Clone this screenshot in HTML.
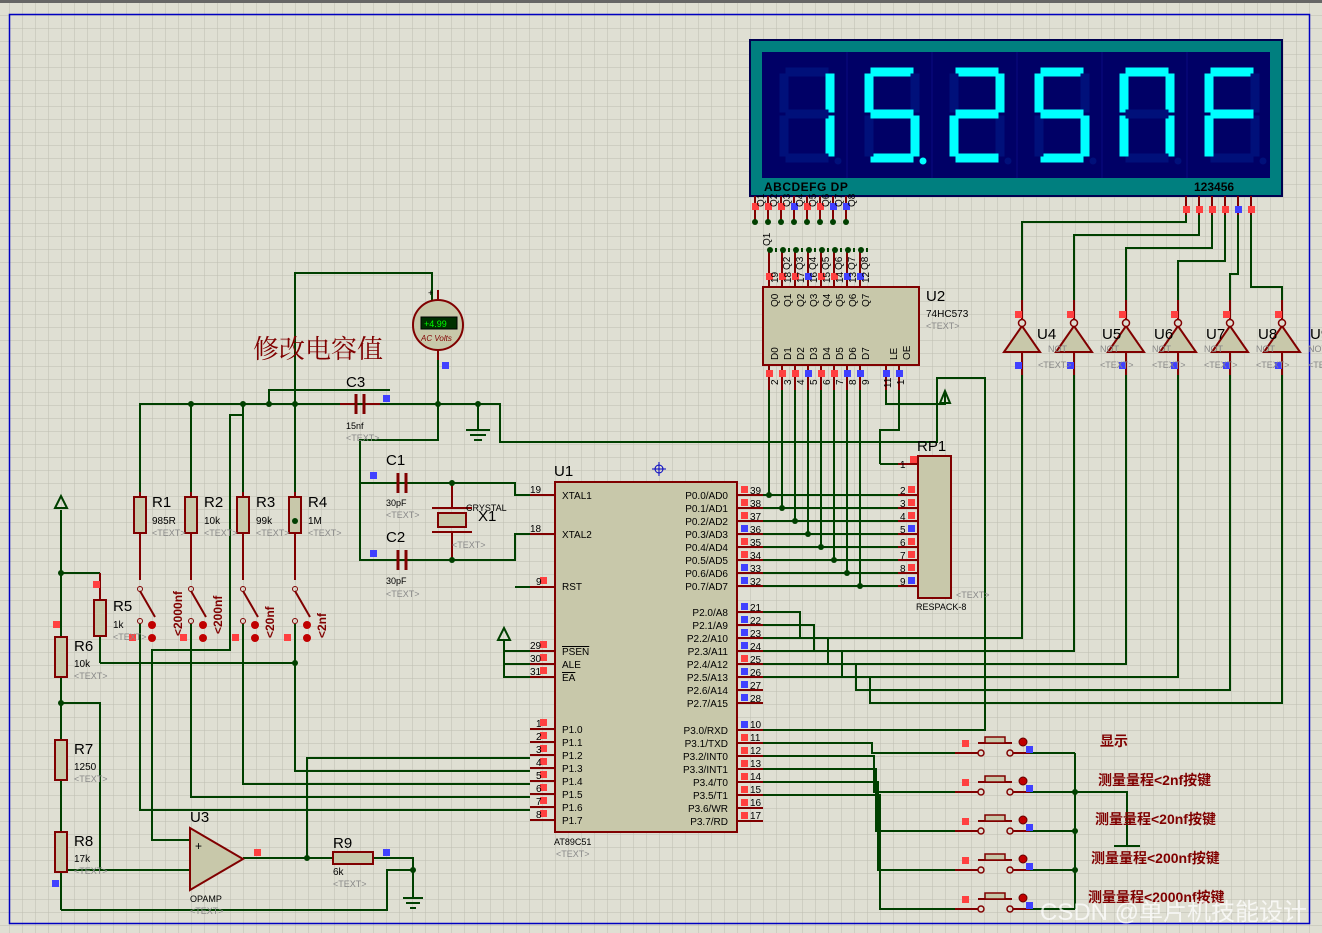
<!DOCTYPE html>
<html><head><meta charset="utf-8"><style>
html,body{margin:0;padding:0;background:#dfdfd3;}
svg{display:block;}
text{font-family:"Liberation Sans","Noto Sans CJK SC",sans-serif;}
.cn{font-family:"Liberation Serif","Noto Serif CJK SC",serif;fill:#800000;font-weight:bold;}
.t{fill:#888;font-size:9px;}
.l{fill:#000;font-size:10px;}
.lb{fill:#000;font-size:15px;}
</style></head><body>
<svg id="s" width="1322" height="933" xmlns="http://www.w3.org/2000/svg">
<defs>
<pattern id="g" x="9" y="2" width="13" height="13" patternUnits="userSpaceOnUse">
<path d="M0 0H13M0 0V13" stroke="#bdbdb0" stroke-width="1" fill="none"/>
</pattern>
</defs>
<rect width="1322" height="933" fill="#dfdfd3"/>
<rect width="1322" height="933" fill="url(#g)"/>
<rect x="0" y="0" width="1322" height="3" fill="#666"/>
<rect x="9.5" y="14.5" width="1300" height="909" fill="none" stroke="#0000c0" stroke-width="1.5"/>

<!-- display -->
<rect x="750" y="40" width="532" height="156" fill="#007f7f" stroke="#000050" stroke-width="2"/>
<rect x="762" y="52" width="508" height="126" fill="#000066"/>
<g id="segs"></g>
<text x="764" y="191" style="font-size:12px;font-weight:bold;fill:#000;letter-spacing:0.5px">ABCDEFG  DP</text>
<text x="1194" y="191" style="font-size:12px;font-weight:bold;fill:#000">123456</text>

<g id="wires" stroke="#004000" stroke-width="2" fill="none"></g>
<g id="comp"></g>

<!-- U2 -->
<rect x="763" y="287" width="156" height="78" fill="#c8c8aa" stroke="#800000" stroke-width="2"/>
<text x="926" y="301" class="lb">U2</text>
<text x="926" y="317" class="l">74HC573</text>
<text x="926" y="329" class="t">&lt;TEXT&gt;</text>
<g class="l" style="font-size:10px">
<text transform="translate(778,307) rotate(-90)">Q0</text><text transform="translate(791,307) rotate(-90)">Q1</text><text transform="translate(804,307) rotate(-90)">Q2</text><text transform="translate(817,307) rotate(-90)">Q3</text><text transform="translate(830,307) rotate(-90)">Q4</text><text transform="translate(843,307) rotate(-90)">Q5</text><text transform="translate(856,307) rotate(-90)">Q6</text><text transform="translate(869,307) rotate(-90)">Q7</text>
<text transform="translate(778,360) rotate(-90)">D0</text><text transform="translate(791,360) rotate(-90)">D1</text><text transform="translate(804,360) rotate(-90)">D2</text><text transform="translate(817,360) rotate(-90)">D3</text><text transform="translate(830,360) rotate(-90)">D4</text><text transform="translate(843,360) rotate(-90)">D5</text><text transform="translate(856,360) rotate(-90)">D6</text><text transform="translate(869,360) rotate(-90)">D7</text>
<text transform="translate(897,360) rotate(-90)">LE</text><text transform="translate(910,360) rotate(-90)">OE</text>
<text transform="translate(778,283) rotate(-90)">19</text><text transform="translate(791,283) rotate(-90)">18</text><text transform="translate(804,283) rotate(-90)">17</text><text transform="translate(817,283) rotate(-90)">16</text><text transform="translate(830,283) rotate(-90)">15</text><text transform="translate(843,283) rotate(-90)">14</text><text transform="translate(856,283) rotate(-90)">13</text><text transform="translate(869,283) rotate(-90)">12</text>
<text transform="translate(778,385) rotate(-90)">2</text><text transform="translate(791,385) rotate(-90)">3</text><text transform="translate(804,385) rotate(-90)">4</text><text transform="translate(817,385) rotate(-90)">5</text><text transform="translate(830,385) rotate(-90)">6</text><text transform="translate(843,385) rotate(-90)">7</text><text transform="translate(856,385) rotate(-90)">8</text><text transform="translate(869,385) rotate(-90)">9</text><text transform="translate(891,388) rotate(-90)">11</text><text transform="translate(904,385) rotate(-90)">1</text>
<text transform="translate(770,246) rotate(-90)">Q1</text><text transform="translate(764,207) rotate(-90)">Q1</text><text transform="translate(777,207) rotate(-90)">Q2</text><text transform="translate(790,207) rotate(-90)">Q3</text><text transform="translate(803,207) rotate(-90)">Q4</text><text transform="translate(816,207) rotate(-90)">Q5</text><text transform="translate(829,207) rotate(-90)">Q6</text><text transform="translate(842,207) rotate(-90)">Q7</text><text transform="translate(855,207) rotate(-90)">Q8</text>
<text transform="translate(790,270) rotate(-90)">Q2</text><text transform="translate(803,270) rotate(-90)">Q3</text><text transform="translate(816,270) rotate(-90)">Q4</text><text transform="translate(829,270) rotate(-90)">Q5</text><text transform="translate(842,270) rotate(-90)">Q6</text><text transform="translate(855,270) rotate(-90)">Q7</text><text transform="translate(868,270) rotate(-90)">Q8</text>
</g>

<!-- U1 -->
<rect x="555" y="482" width="182" height="350" fill="#c8c8aa" stroke="#800000" stroke-width="2"/>
<text x="554" y="476" class="lb">U1</text>
<text x="554" y="845" class="l" style="font-size:9px">AT89C51</text>
<text x="556" y="857" class="t">&lt;TEXT&gt;</text>
<g class="l">
<text x="562" y="499">XTAL1</text><text x="562" y="538">XTAL2</text><text x="562" y="590">RST</text>
<text x="562" y="655" style="text-decoration:overline">PSEN</text><text x="562" y="668">ALE</text><text x="562" y="681" style="text-decoration:overline">EA</text>
<text x="562" y="733">P1.0</text><text x="562" y="746">P1.1</text><text x="562" y="759">P1.2</text><text x="562" y="772">P1.3</text><text x="562" y="785">P1.4</text><text x="562" y="798">P1.5</text><text x="562" y="811">P1.6</text><text x="562" y="824">P1.7</text>
<g text-anchor="end">
<text x="728" y="499">P0.0/AD0</text><text x="728" y="512">P0.1/AD1</text><text x="728" y="525">P0.2/AD2</text><text x="728" y="538">P0.3/AD3</text><text x="728" y="551">P0.4/AD4</text><text x="728" y="564">P0.5/AD5</text><text x="728" y="577">P0.6/AD6</text><text x="728" y="590">P0.7/AD7</text>
<text x="728" y="616">P2.0/A8</text><text x="728" y="629">P2.1/A9</text><text x="728" y="642">P2.2/A10</text><text x="728" y="655">P2.3/A11</text><text x="728" y="668">P2.4/A12</text><text x="728" y="681">P2.5/A13</text><text x="728" y="694">P2.6/A14</text><text x="728" y="707">P2.7/A15</text>
<text x="728" y="734">P3.0/RXD</text><text x="728" y="747">P3.1/TXD</text><text x="728" y="760">P3.2/INT0</text><text x="728" y="773">P3.3/INT1</text><text x="728" y="786">P3.4/T0</text><text x="728" y="799">P3.5/T1</text><text x="728" y="812">P3.6/WR</text><text x="728" y="825">P3.7/RD</text>
</g>
<text x="530" y="493">19</text><text x="530" y="532">18</text><text x="536" y="585">9</text><text x="530" y="649">29</text><text x="530" y="662">30</text><text x="530" y="675">31</text>
<text x="536" y="727">1</text><text x="536" y="740">2</text><text x="536" y="753">3</text><text x="536" y="766">4</text><text x="536" y="779">5</text><text x="536" y="792">6</text><text x="536" y="805">7</text><text x="536" y="818">8</text>
<text x="750" y="494">39</text><text x="750" y="507">38</text><text x="750" y="520">37</text><text x="750" y="533">36</text><text x="750" y="546">35</text><text x="750" y="559">34</text><text x="750" y="572">33</text><text x="750" y="585">32</text>
<text x="750" y="611">21</text><text x="750" y="624">22</text><text x="750" y="637">23</text><text x="750" y="650">24</text><text x="750" y="663">25</text><text x="750" y="676">26</text><text x="750" y="689">27</text><text x="750" y="702">28</text>
<text x="750" y="728">10</text><text x="750" y="741">11</text><text x="750" y="754">12</text><text x="750" y="767">13</text><text x="750" y="780">14</text><text x="750" y="793">15</text><text x="750" y="806">16</text><text x="750" y="819">17</text>
</g>

<!-- RP1 -->
<rect x="918" y="456" width="33" height="142" fill="#c8c8aa" stroke="#800000" stroke-width="2"/>
<text x="917" y="451" class="lb">RP1</text>
<text x="916" y="610" class="l" style="font-size:9px">RESPACK-8</text>
<text x="956" y="598" class="t">&lt;TEXT&gt;</text>
<g class="l"><text x="900" y="468">1</text><text x="900" y="494">2</text><text x="900" y="507">3</text><text x="900" y="520">4</text><text x="900" y="533">5</text><text x="900" y="546">6</text><text x="900" y="559">7</text><text x="900" y="572">8</text><text x="900" y="585">9</text></g>

<!-- inverter labels -->
<g class="lb"><text x="1037" y="339">U4</text><text x="1102" y="339">U5</text><text x="1154" y="339">U6</text><text x="1206" y="339">U7</text><text x="1258" y="339">U8</text><text x="1310" y="339">U9</text></g>
<g class="t"><text x="1048" y="352">NOT</text><text x="1100" y="352">NOT</text><text x="1152" y="352">NOT</text><text x="1204" y="352">NOT</text><text x="1256" y="352">NOT</text><text x="1308" y="352">NOT</text>
<text x="1038" y="368">&lt;TEXT&gt;</text><text x="1100" y="368">&lt;TEXT&gt;</text><text x="1152" y="368">&lt;TEXT&gt;</text><text x="1204" y="368">&lt;TEXT&gt;</text><text x="1256" y="368">&lt;TEXT&gt;</text><text x="1308" y="368">&lt;TEXT&gt;</text></g>

<!-- left labels -->
<g class="lb">
<text x="152" y="507">R1</text><text x="204" y="507">R2</text><text x="256" y="507">R3</text><text x="308" y="507">R4</text>
<text x="113" y="611">R5</text><text x="74" y="651">R6</text><text x="74" y="754">R7</text><text x="74" y="846">R8</text>
<text x="190" y="822">U3</text><text x="333" y="848">R9</text>
<text x="346" y="387">C3</text><text x="386" y="465">C1</text><text x="386" y="542">C2</text>
<text x="478" y="521">X1</text>
</g>
<g class="l">
<text x="152" y="524">985R</text><text x="204" y="524">10k</text><text x="256" y="524">99k</text><text x="308" y="524">1M</text>
<text x="113" y="628">1k</text><text x="74" y="667">10k</text><text x="74" y="770">1250</text><text x="74" y="862">17k</text>
<text x="190" y="902" style="font-size:9px">OPAMP</text><text x="333" y="875">6k</text>
<text x="346" y="429" style="font-size:9px">15nf</text><text x="386" y="506" style="font-size:9px">30pF</text><text x="386" y="584" style="font-size:9px">30pF</text>
<text x="466" y="511" style="font-size:9px">CRYSTAL</text>
</g>
<g class="t">
<text x="152" y="536">&lt;TEXT&gt;</text><text x="204" y="536">&lt;TEXT&gt;</text><text x="256" y="536">&lt;TEXT&gt;</text><text x="308" y="536">&lt;TEXT&gt;</text>
<text x="113" y="640">&lt;TEXT&gt;</text><text x="74" y="679">&lt;TEXT&gt;</text><text x="74" y="782">&lt;TEXT&gt;</text><text x="74" y="874">&lt;TEXT&gt;</text>
<text x="190" y="914">&lt;TEXT&gt;</text><text x="333" y="887">&lt;TEXT&gt;</text><text x="346" y="441">&lt;TEXT&gt;</text><text x="386" y="518">&lt;TEXT&gt;</text><text x="386" y="597">&lt;TEXT&gt;</text><text x="452" y="548">&lt;TEXT&gt;</text>
</g>
<g class="cn" style="font-size:12px">
<text transform="translate(182,636) rotate(-90)">&lt;2000nf</text>
<text transform="translate(222,634) rotate(-90)">&lt;200nf</text>
<text transform="translate(274,638) rotate(-90)">&lt;20nf</text>
<text transform="translate(326,638) rotate(-90)">&lt;2nf</text>
</g>
<text x="253" y="358" class="cn" style="font-size:26px;font-weight:normal">修改电容值</text>
<g class="cn" style="font-size:14px">
<text x="1100" y="746">显示</text>
<text x="1098" y="785">测量量程&lt;2nf按键</text>
<text x="1095" y="824">测量量程&lt;20nf按键</text>
<text x="1091" y="863">测量量程&lt;200nf按键</text>
<text x="1088" y="902">测量量程&lt;2000nf按键</text>
</g>
<text x="1040" y="920" style="font-size:24px;fill:#ffffff;opacity:0.75;font-family:'Liberation Sans','Noto Sans CJK SC',sans-serif">CSDN @单片机技能设计</text>

<!-- voltmeter -->
<circle cx="438" cy="325" r="25" fill="#c8c8aa" stroke="#800000" stroke-width="2"/>
<rect x="421" y="317" width="36" height="12" fill="#003000" stroke="#000"/>
<text x="424" y="327" style="font-size:9px;fill:#0f0">+4.99</text>
<text x="421" y="341" style="font-size:8px;fill:#800000;font-style:italic">AC Volts</text>
<text x="428" y="296" style="font-size:9px">+</text>
</svg>
<script>
var NS="http://www.w3.org/2000/svg";
function el(p,t,a){var e=document.createElementNS(NS,t);for(var k in a)e.setAttribute(k,a[k]);p.appendChild(e);return e;}
var S=document.getElementById('s'),W=document.getElementById('wires'),C=document.getElementById('comp');
var G=document.getElementById('segs');
var digs=["bc","acdfg","abdeg","acdfg","abcef","aefg"],dps=[0,1,0,0,0,0];
for(var i=0;i<6;i++){var o=762+85*i,l=o+22,r=o+68,t=72,m=114,b=158;
 if(i>0)el(G,'line',{x1:o,y1:52,x2:o,y2:178,stroke:'#0a0a80','stroke-width':1});
 var sg={a:[l+6,t,r-6,t],b:[r,t+6,r,m-6],c:[r,m+6,r,b-6],d:[l+6,b,r-6,b],e:[l,m+6,l,b-6],f:[l,t+6,l,m-6],g:[l+6,m,r-6,m]};
 for(var k in sg){var on=digs[i].indexOf(k)>=0,q=sg[k];
  el(G,'line',{x1:q[0],y1:q[1],x2:q[2],y2:q[3],stroke:on?'#00ffff':'#00107a','stroke-width':9,'stroke-linecap':'square'});}
 el(G,'circle',{cx:r+8,cy:b+3,r:3.5,fill:dps[i]?'#00ffff':'#00107a'});
}
function ln(x1,y1,x2,y2,c,w){el(W,'line',{x1:x1,y1:y1,x2:x2,y2:y2,stroke:c||'#004000','stroke-width':w||2});}
function pl(pts,c){el(W,'polyline',{points:pts,stroke:c||'#004000','stroke-width':2,fill:'none'});}
function dot(x,y){el(C,'circle',{cx:x,cy:y,r:3,fill:'#004000'});}
function sq(x,y,c){el(C,'rect',{x:x,y:y,width:7,height:7,fill:c=='b'?'#4040ff':'#ff4040'});}
var R='#800000';
var pc="rrrbrrbb";
for(var i=0;i<8;i++){var x=755+13*i;ln(x,196,x,222,R);sq(x-3,203,pc[i]);dot(x,222);}
for(var i=0;i<6;i++){var x=1186+13*i;ln(x,196,x,215,R);sq(x-3,206,"rrrrbr"[i]);}
for(var i=0;i<8;i++){var x=769+13*i;ln(x,252,x,287,R);sq(x-3,273,pc[i]);dot(x+1,250);ln(x,365,x,390,R);sq(x-3,370,pc[i]);
 ln(x,390,x,495+13*i);dot(x,495+13*i);}
for(var i=0;i<8;i++){var x=776+13*i;ln(x,248,x,252);}
ln(886,365,886,390,R);sq(883,370,'b');ln(899,365,899,390,R);sq(896,370,'b');
pl("886,390 886,404 945,404 945,393");
el(C,'polygon',{points:"940,403 945,391 950,403",fill:'none',stroke:'#004000','stroke-width':2});
pl("899,390 899,404");
function lp(y,c){ln(530,y,555,y,R);if(c)sq(540,y-10,c);}
lp(495);lp(534);lp(587,'g');lp(651,'r');lp(664,'r');lp(677,'r');
for(var i=0;i<8;i++)lp(729+13*i,'r');
var p0="rrrbrrbb",p2="bbbbrbbb",p3="brrrrrrr";
for(var i=0;i<8;i++){ln(737,495+13*i,763,495+13*i,R);sq(741,486+13*i,p0[i]);
 ln(737,612+13*i,763,612+13*i,R);sq(741,603+13*i,p2[i]);
 ln(737,730+13*i,763,730+13*i,R);sq(741,721+13*i,p3[i]);}
ln(898,464,918,464,R);sq(910,456,'r');
for(var i=0;i<8;i++){var y=495+13*i;ln(898,y,918,y,R);sq(908,y-9,i==3||i==7?'b':'r');ln(763,y,898,y);}
pl("880,464 880,430 899,430 899,404");pl("880,464 898,464");
pl("937,393 937,378 985,378 985,730 763,730");
var invx=[1022,1074,1126,1178,1230,1282];
for(var i=0;i<6;i++){var x=invx[i];
 el(C,'polygon',{points:(x-18)+",352 "+x+",326 "+(x+18)+",352",fill:'#c8c8aa',stroke:R,'stroke-width':2});
 el(C,'circle',{cx:x,cy:323,r:3.5,fill:'#dfdfd3',stroke:R,'stroke-width':1.5});
 ln(x,300,x,319,R);ln(x,352,x,375,R);sq(x-7,311,'r');sq(x-7,362,'b');
 var px=1186+13*i;pl(px+",215 "+px+","+(222+13*i)+" "+(x+0)+","+(222+13*i)+" "+x+",300");
 pl("763,"+(612+13*i)+" "+(800+14*i)+","+(612+13*i)+" "+(800+14*i)+","+(638+13*i)+" "+x+","+(638+13*i)+" "+x+",375");
}
var sy=[745,784,823,862,901];
for(var i=0;i<5;i++){var y=sy[i];
 el(C,'rect',{x:985,y:y-8,width:20,height:6,fill:'#c8c8aa',stroke:R,'stroke-width':1.5});ln(978,y-2,1012,y-2,R);
 el(C,'circle',{cx:981,cy:y+8,r:3,fill:'none',stroke:R,'stroke-width':1.5});el(C,'circle',{cx:1010,cy:y+8,r:3,fill:'none',stroke:R,'stroke-width':1.5});
 ln(955,y+8,978,y+8,R);ln(1013,y+8,1030,y+8,R);sq(962,y-5,'r');sq(1026,y+1,'b');
 el(C,'circle',{cx:1023,cy:y-3,r:4,fill:'#c00000',stroke:'#600',});
 var ux=840+10*i,uy=743+13*i;
 pl("763,"+uy+" "+(ux+(4-i)*8)+","+uy+" "+(ux+(4-i)*8)+","+(y+8)+" 955,"+(y+8));
 ln(1030,y+8,1075,y+8);
}
ln(1075,753,1075,909);dot(1075,792);dot(1075,831);dot(1075,870);
pl("1075,792 1127,792 1127,846");ln(1114,846,1140,846);
pl("140,492 140,404 500,404 500,442 937,442 937,393");
pl("438,350 438,440 360,440 360,560 515,560 515,534 530,534");
pl("360,483 515,483 515,495 530,495");
dot(191,404);dot(243,404);dot(269,404);dot(295,404);dot(438,404);dot(478,404);dot(452,483);dot(452,560);
ln(478,404,478,430);ln(466,430,490,430);ln(470,435,486,435);ln(474,440,482,440);
pl("295,492 295,273 432,273 432,300",'#004000');
ln(340,404,354,404,R);ln(366,404,380,404,R);ln(356,394,356,414,R,3);ln(364,394,364,414,R,3);sq(383,395,'b');
ln(398,473,398,493,R,3);ln(406,473,406,493,R,3);ln(398,550,398,570,R,3);ln(406,550,406,570,R,3);sq(370,472,'b');sq(370,550,'b');
el(C,'rect',{x:438,y:513,width:28,height:14,fill:'#c8c8aa',stroke:R,'stroke-width':2});ln(432,508,472,508,R);ln(432,532,472,532,R);ln(452,483,452,508,R);ln(452,532,452,560,R);
var rx=[140,191,243,295];
for(var i=0;i<4;i++){var x=rx[i];
 ln(x,404,x,492);ln(x,492,x,497,R);ln(x,533,x,580,R);
 el(C,'rect',{x:x-6,y:497,width:12,height:36,fill:'#c8c8aa',stroke:R,'stroke-width':2});
 el(C,'circle',{cx:x,cy:589,r:2.5,fill:'none',stroke:R});ln(x,591,x+15,617,R);
 el(C,'circle',{cx:x,cy:621,r:2.5,fill:'none',stroke:R});
 el(C,'circle',{cx:x+12,cy:625,r:4,fill:'#c00000'});el(C,'circle',{cx:x+12,cy:638,r:4,fill:'#c00000'});sq(x-11,634,'r');
 ln(x,624,x,700);
}
ln(191,404,191,492);
dot(295,521);
pl("140,624 140,810 530,810");pl("191,624 191,797 530,797");pl("243,624 243,784 530,784");pl("295,624 295,771 530,771");
pl("243,404 243,415 230,415 230,650 152,650 152,840 190,840");
pl("269,404 269,390 390,390");
pl("530,758 307,758 307,858");
ln(61,510,61,637);el(C,'polygon',{points:"55,508 61,496 67,508",fill:'none',stroke:'#004000','stroke-width':2});
ln(61,573,100,573);ln(100,573,100,600,R);el(C,'rect',{x:94,y:600,width:12,height:36,fill:'#c8c8aa',stroke:R,'stroke-width':2});ln(100,636,100,663);
pl("100,663 295,663");sq(93,581,'r');dot(61,573);dot(295,663);
el(C,'rect',{x:55,y:637,width:12,height:40,fill:'#c8c8aa',stroke:R,'stroke-width':2});sq(53,621,'r');
ln(61,677,61,740);dot(61,703);pl("61,703 100,703 100,870");
el(C,'rect',{x:55,y:740,width:12,height:40,fill:'#c8c8aa',stroke:R,'stroke-width':2});ln(61,780,61,832);
el(C,'rect',{x:55,y:832,width:12,height:40,fill:'#c8c8aa',stroke:R,'stroke-width':2});ln(61,872,61,910);sq(52,880,'b');
pl("61,910 387,910 387,870 413,870 413,898");
ln(61,870,190,870);
el(C,'polygon',{points:"190,828 243,859 190,890",fill:'#c8c8aa',stroke:R,'stroke-width':2});
el(C,'text',{x:195,y:850,'font-size':12}).textContent='+';
ln(243,858,333,858);sq(254,849,'r');dot(307,858);
el(C,'rect',{x:333,y:852,width:40,height:12,fill:'#c8c8aa',stroke:R,'stroke-width':2});
pl("373,858 413,858 413,898");sq(383,849,'b');dot(413,870);
ln(403,898,423,898);ln(406,903,420,903);ln(410,908,416,908);
pl("530,677 504,677 504,640");el(C,'polygon',{points:"498,640 504,628 510,640",fill:'none',stroke:'#004000','stroke-width':2});
pl("530,664 504,664");pl("530,651 504,651");
ln(530,587,515,587);
el(C,'circle',{cx:659,cy:469,r:4,fill:'none',stroke:'#0000c0'});ln(659,462,659,476,'#0000c0',1);ln(652,469,666,469,'#0000c0',1);
ln(438,290,438,300,R);ln(438,350,438,360,R);sq(442,362,'b');
</script>
</body></html>
